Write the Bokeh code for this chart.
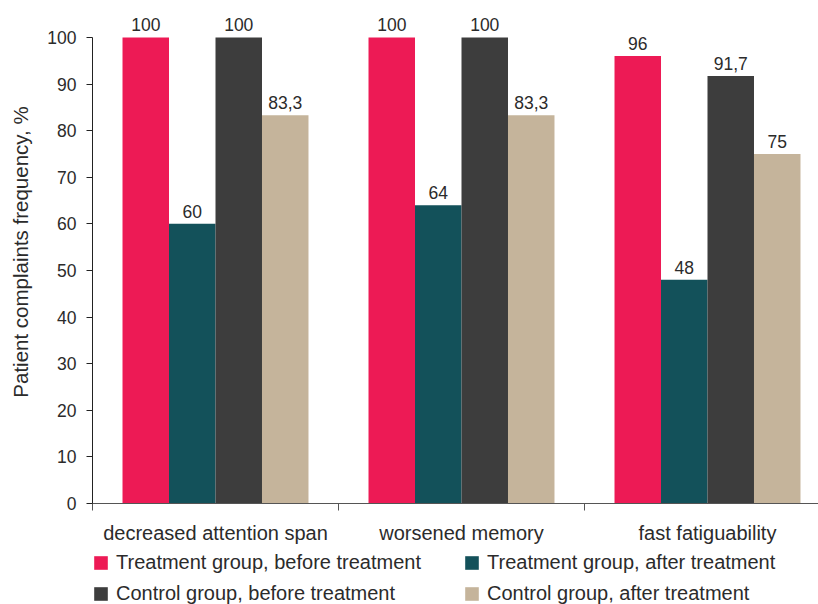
from bokeh.plotting import figure
from bokeh.layouts import column
from bokeh.models import Range1d, FixedTicker, ColumnDataSource, Legend, LegendItem
from bokeh.core.properties import value
from bokeh.embed import file_html
from bokeh.resources import INLINE

categories = ["decreased attention span", "worsened memory", "fast fatiguability"]
series_names = [
    "Treatment group, before treatment",
    "Treatment group, after treatment",
    "Control group, before treatment",
    "Control group, after treatment",
]
treatment_before = [100, 100, 96]
treatment_after = [60, 64, 48]
control_before = [100, 100, 91.7]
control_after = [83.3, 83.3, 75]
series_values = [treatment_before, treatment_after, control_before, control_after]
y_ticks = [0, 10, 20, 30, 40, 50, 60, 70, 80, 90, 100]
colors = ["#ED1A55", "#13515A", "#3D3D3D", "#C5B49B"]

FONT = "Liberation Sans"
TEXT = "#2B2B2B"

W = 818
MAIN_H, LEG_H = 546, 58
LEFT, BOTTOM_BORDER = 92, 42
frame_w = W - LEFT
cat_px = 246.0
px_per_unit = 4.67
frame_h = MAIN_H - BOTTOM_BORDER

p = figure(width=W, height=MAIN_H, output_backend="svg", toolbar_location=None,
           x_range=Range1d(0, frame_w / cat_px),
           y_range=Range1d(0, frame_h / px_per_unit),
           min_border_left=LEFT, min_border_right=0, min_border_top=0,
           min_border_bottom=BOTTOM_BORDER)
p.outline_line_color = None
p.xgrid.visible = False
p.ygrid.visible = False
p.background_fill_color = "white"
p.border_fill_color = "white"

bar_w = 0.189
offsets = [-1.5, -0.5, 0.5, 1.5]
sources = []
for k, (name, vals, col) in enumerate(zip(series_names, series_values, colors)):
    xs = [i + 0.5 + offsets[k] * bar_w for i in range(len(categories))]
    src = ColumnDataSource(dict(x=xs, top=vals,
                                lab=[("%g" % v).replace(".", ",") for v in vals]))
    sources.append(src)
    p.vbar(x="x", top="top", width=bar_w, bottom=0, source=src,
           fill_color=col, line_color=None)
    p.text(x="x", y="top", text="lab", source=src, text_align="center",
           text_baseline="bottom", y_offset=-6, text_font=value(FONT),
           text_font_size="17.5px", text_color=TEXT)

# y axis
ya = p.yaxis[0]
ya.bounds = (0, 100)
ya.ticker = FixedTicker(ticks=y_ticks, minor_ticks=[])
ya.major_tick_out = 6
ya.major_tick_in = 0
ya.minor_tick_out = 0
ya.minor_tick_in = 0
ya.axis_line_color = "#222222"
ya.major_tick_line_color = "#222222"
ya.major_label_text_font = FONT
ya.major_label_text_font_size = "17.5px"
ya.major_label_text_color = TEXT
ya.major_label_standoff = 10
ya.axis_label = "Patient complaints frequency, %"
ya.axis_label_text_font = FONT
ya.axis_label_text_font_size = "20.5px"
ya.axis_label_text_font_style = "normal"
ya.axis_label_text_color = TEXT
ya.axis_label_standoff = 12

# x axis
xa = p.xaxis[0]
centers = [i + 0.5 for i in range(len(categories))]
xa.ticker = FixedTicker(ticks=centers, minor_ticks=[float(i) for i in range(len(categories) + 1)])
xa.major_label_overrides = {c: lab for c, lab in zip(centers, categories)}
xa.major_tick_out = 0
xa.major_tick_in = 0
xa.minor_tick_out = 7
xa.minor_tick_in = 0
xa.axis_line_color = "#555555"
xa.minor_tick_line_color = "#555555"
xa.major_label_text_font = FONT
xa.major_label_text_font_size = "20px"
xa.major_label_text_color = TEXT
xa.major_label_standoff = 11

# legend figure (frame aligned with the main frame by the column layout)
lf = figure(width=W, height=LEG_H, output_backend="svg", toolbar_location=None,
            x_range=Range1d(0, 1), y_range=Range1d(0, 1),
            x_axis_location=None, y_axis_location=None,
            min_border=0, min_border_left=0, min_border_right=0,
            min_border_top=0, min_border_bottom=0)
lf.outline_line_color = None
lf.xgrid.visible = False
lf.ygrid.visible = False
lf.background_fill_color = "white"
lf.border_fill_color = "white"
leg_renderers = []
for src, col in zip(sources, colors):
    # zero-width proxies: only their legend swatches are visible
    leg_renderers.append(lf.vbar(x="x", top=0, bottom=0, width=0, source=src,
                                 fill_color=col, line_color=None))

def make_legend(idx, loc):
    return Legend(items=[LegendItem(label=series_names[i], renderers=[leg_renderers[i]]) for i in idx],
                  location=loc, orientation="vertical",
                  label_text_font=FONT, label_text_font_size="20px",
                  label_text_color=TEXT, glyph_width=17, glyph_height=17,
                  label_standoff=7, spacing=8, padding=0, margin=0,
                  border_line_alpha=0, background_fill_alpha=0)

lf.add_layout(make_legend([0, 2], (0, -1)))
lf.add_layout(make_legend([1, 3], (371, -1)))

layout = column(p, lf, spacing=0)
open("out.html", "w").write(file_html(layout, INLINE))
